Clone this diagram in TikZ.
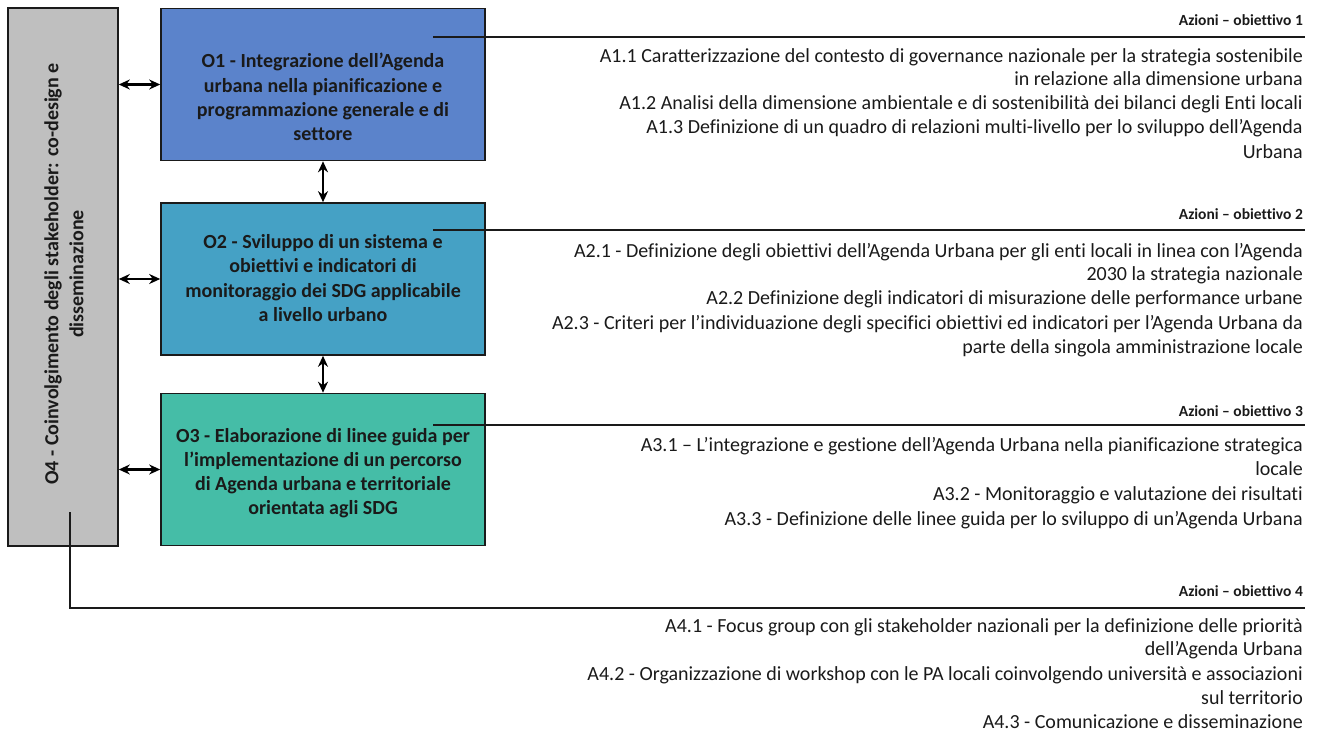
\documentclass[tikz,border=0pt]{standalone}
\usepackage{fontspec}
\setmainfont[Ligatures={TeX,NoCommon}]{Carlito}
\usetikzlibrary{arrows.meta}
\definecolor{cgrey}{HTML}{BFBFBF}
\definecolor{cone}{HTML}{5B83CB}
\definecolor{ctwo}{HTML}{45A1C5}
\definecolor{cthree}{HTML}{45BDA7}
\definecolor{cline}{HTML}{1A1A1A}
\newcommand{\sqap}{\char"27\relax}
\tikzset{
  objbox/.style={draw=cline, line width=1.6pt, minimum width=324pt, minimum height=152pt, inner sep=0pt},
  boxtext/.style={align=center, font=\fontsize{20}{24.2}\selectfont\bfseries, text=cline, inner sep=0pt},
  act/.style={anchor=base east, inner sep=0pt, font=\fontsize{20}{24}\selectfont, text=cline},
  acthead/.style={anchor=base east, inner sep=0pt, font=\fontsize{15.5}{18}\selectfont\bfseries, text=cline},
  biarrow/.style={{Stealth[length=11pt,width=10pt]}-{Stealth[length=11pt,width=10pt]}, line width=2.4pt, draw=black},
  conn/.style={line width=1.4pt, draw=cline}
}
\begin{document}
\begin{tikzpicture}[x=1pt,y=-1pt]
\useasboundingbox (0,0) rectangle (1319,733);
% boxes
\node[objbox, fill=cgrey, minimum width=110pt, minimum height=538pt] (O4) at (63,277) {};
\node[objbox, fill=cone] (O1) at (323,84.5) {};
\node[objbox, fill=ctwo] (O2) at (323,279) {};
\node[objbox, fill=cthree] (O3) at (323,469.5) {};
% box texts
\node[boxtext] (t1) at (323,97) {O1 - Integrazione dell\sqap Agenda\\urbana nella pianificazione e\\programmazione generale e di\\settore};
\node[boxtext] (t2) at (323,278) {O2 - Sviluppo di un sistema e\\obiettivi e indicatori di\\monitoraggio dei SDG applicabile\\a livello urbano};
\node[boxtext] (t3) at (323,473) {O3 - Elaborazione di linee guida per\\l\sqap implementazione di un percorso\\di Agenda urbana e territoriale\\orientata agli SDG};
\node[boxtext, rotate=90, font=\fontsize{20}{25}\selectfont\bfseries] (t4) at (64,274) {O4 - Coinvolgimento degli stakeholder: co-design e\\disseminazione};
% arrows
\draw[biarrow] (O4.east |- O1.west) -- (O1.west);
\draw[biarrow] (O4.east |- O2.west) -- (O2.west);
\draw[biarrow] (O4.east |- O3.west) -- (O3.west);
\draw[biarrow] (O1.south) -- (O2.north);
\draw[biarrow] (O2.south) -- (O3.north);
% connector coordinates
\coordinate (s1) at (433,37);
\coordinate (e1) at (1305,37);
\coordinate (s2) at (433,230);
\coordinate (e2) at (1305,230);
\coordinate (s3) at (433,425);
\coordinate (e3) at (1305,425);
\coordinate (s4) at (70,512);
\coordinate (e4) at (1305,608);
\draw[conn] (s1) -- (e1);
\draw[conn] (s2) -- (e2);
\draw[conn] (s3) -- (e3);
\draw[conn] (s4) |- (e4);
% headings
\node[acthead] (h1) at (1303,26) {Azioni – obiettivo 1};
\node[acthead] (h2) at (1303,219) {Azioni – obiettivo 2};
\node[acthead] (h3) at (1303,416) {Azioni – obiettivo 3};
\node[acthead] (h4) at (1303,596) {Azioni – obiettivo 4};
% actions 1
\node[act] (a11) at (1303,63) {A1.1 Caratterizzazione del contesto di governance nazionale per la strategia sostenibile};
\node[act] (a11b) at (1303,86) {in relazione alla dimensione urbana};
\node[act] (a12) at (1303,110) {A1.2 Analisi della dimensione ambientale e di sostenibilità dei bilanci degli Enti locali};
\node[act] (a13) at (1303,134) {A1.3 Definizione di un quadro di relazioni multi-livello per lo sviluppo dell’Agenda};
\node[act] (a13b) at (1303,158) {Urbana};
% actions 2
\node[act] (a21) at (1303,257) {A2.1 - Definizione degli obiettivi dell’Agenda Urbana per gli enti locali in linea con l’Agenda};
\node[act] (a21b) at (1303,280) {2030 la strategia nazionale};
\node[act] (a22) at (1303,304) {A2.2 Definizione degli indicatori di misurazione delle performance urbane};
\node[act] (a23) at (1303,329) {A2.3 - Criteri per l’individuazione degli specifici obiettivi ed indicatori per l’Agenda Urbana da};
\node[act] (a23b) at (1303,353) {parte della singola amministrazione locale};
% actions 3
\node[act] (a31) at (1303,451) {A3.1 – L’integrazione e gestione dell’Agenda Urbana nella pianificazione strategica};
\node[act] (a31b) at (1303,475) {locale};
\node[act] (a32) at (1303,500) {A3.2 - Monitoraggio e valutazione dei risultati};
\node[act] (a33) at (1303,525) {A3.3 - Definizione delle linee guida per lo sviluppo di un’Agenda Urbana};
% actions 4
\node[act] (a41) at (1303,632) {A4.1 - Focus group con gli stakeholder nazionali per la definizione delle priorità};
\node[act] (a41b) at (1303,655) {dell’Agenda Urbana};
\node[act] (a42) at (1303,680) {A4.2 - Organizzazione di workshop con le PA locali coinvolgendo università e associazioni};
\node[act] (a42b) at (1303,704) {sul territorio};
\node[act] (a43) at (1303,728) {A4.3 - Comunicazione e disseminazione};
\end{tikzpicture}
\end{document}
